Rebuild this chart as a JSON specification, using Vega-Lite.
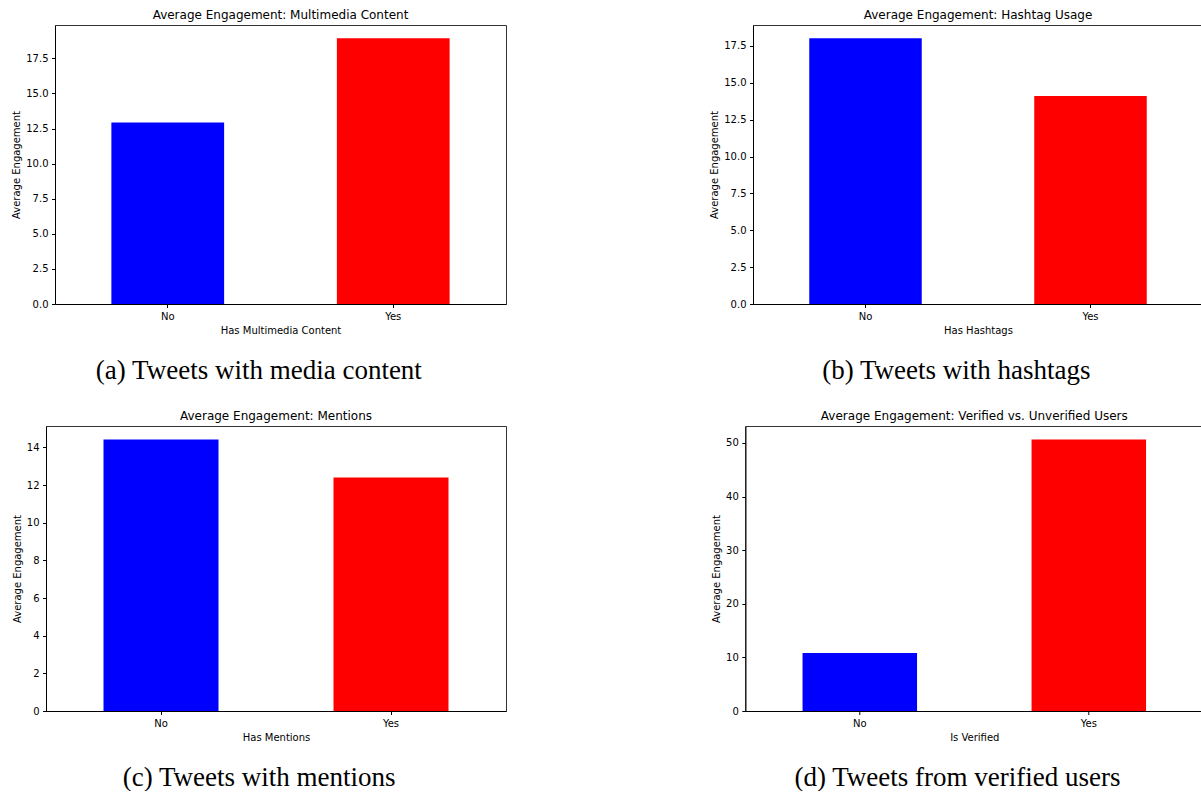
{
  "$schema": "https://vega.github.io/schema/vega-lite/v6.json",
  "padding": {"left": 10, "top": 8, "right": 0, "bottom": 0},
  "background": "white",
  "config": {
    "view": {"stroke": "#333", "strokeWidth": 1},
    "font": "DejaVu Sans",
    "title": {"font": "DejaVu Sans", "fontSize": 12, "fontWeight": "normal", "color": "black", "offset": 3},
    "axis": {
      "labelFont": "DejaVu Sans", "labelFontSize": 10, "labelColor": "black",
      "titleFont": "DejaVu Sans", "titleFontSize": 10, "titleFontWeight": "normal", "titleColor": "black",
      "tickSize": 3.5, "tickColor": "black", "domainColor": "black", "grid": false, "labelPadding": 3.5, "titlePadding": 4
    },
    "bar": {"stroke": null}
  },
  "datasets": {
    "media": [{"label": "No", "value": 12.94}, {"label": "Yes", "value": 18.93}],
    "hashtags": [{"label": "No", "value": 18.02}, {"label": "Yes", "value": 14.11}],
    "mentions": [{"label": "No", "value": 14.42}, {"label": "Yes", "value": 12.40}],
    "verified": [{"label": "No", "value": 10.84}, {"label": "Yes", "value": 50.63}],
    "empty": []
  },
  "spacing": 25,
  "vconcat": [
    {
      "spacing": 0,
      "hconcat": [
        {
          "width": 1, "height": 1,
          "view": {"stroke": null},
          "data": {"name": "empty"},
          "mark": "point",
          "encoding": {}
        },
        {
          "spacing": 202,
          "hconcat": [
            {
              "title": {"text": "(a) Tweets with media content", "orient": "bottom", "anchor": "middle", "font": "Liberation Serif", "fontSize": 27, "offset": 22},
              "vconcat": [{
                "title": "Average Engagement: Multimedia Content",
                "width": 451, "height": 279,
                "data": {"name": "media"},
                "mark": "bar",
                "encoding": {
                  "x": {"field": "label", "type": "nominal", "scale": {"paddingInner": 0.5, "paddingOuter": 0.25}, "axis": {"labelAngle": 0, "title": "Has Multimedia Content"}},
                  "y": {"field": "value", "type": "quantitative", "scale": {"domain": [0, 19.88], "nice": false}, "axis": {"values": [0, 2.5, 5, 7.5, 10, 12.5, 15, 17.5], "format": ".1f", "title": "Average Engagement"}},
                  "color": {"field": "label", "type": "nominal", "scale": {"domain": ["No", "Yes"], "range": ["#0000ff", "#ff0000"]}, "legend": null}
                }
              }]
            },
            {
              "title": {"text": "(b) Tweets with hashtags", "orient": "bottom", "anchor": "middle", "font": "Liberation Serif", "fontSize": 27, "offset": 22},
              "vconcat": [{
                "title": "Average Engagement: Hashtag Usage",
                "width": 450, "height": 279,
                "data": {"name": "hashtags"},
                "mark": "bar",
                "encoding": {
                  "x": {"field": "label", "type": "nominal", "scale": {"paddingInner": 0.5, "paddingOuter": 0.25}, "axis": {"labelAngle": 0, "title": "Has Hashtags"}},
                  "y": {"field": "value", "type": "quantitative", "scale": {"domain": [0, 18.92], "nice": false}, "axis": {"values": [0, 2.5, 5, 7.5, 10, 12.5, 15, 17.5], "format": ".1f", "title": "Average Engagement"}},
                  "color": {"field": "label", "type": "nominal", "scale": {"domain": ["No", "Yes"], "range": ["#0000ff", "#ff0000"]}, "legend": null}
                }
              }]
            }
          ]
        }
      ]
    },
    {
      "spacing": 0,
      "hconcat": [
        {
          "width": 1, "height": 1,
          "view": {"stroke": null},
          "data": {"name": "empty"},
          "mark": "point",
          "encoding": {}
        },
        {
          "spacing": 203.3,
          "hconcat": [
            {
              "title": {"text": "(c) Tweets with mentions", "orient": "bottom", "anchor": "middle", "font": "Liberation Serif", "fontSize": 27, "offset": 22},
              "vconcat": [{
                "title": "Average Engagement: Mentions",
                "width": 460, "height": 285,
                "data": {"name": "mentions"},
                "mark": "bar",
                "encoding": {
                  "x": {"field": "label", "type": "nominal", "scale": {"paddingInner": 0.5, "paddingOuter": 0.25}, "axis": {"labelAngle": 0, "title": "Has Mentions"}},
                  "y": {"field": "value", "type": "quantitative", "scale": {"domain": [0, 15.14], "nice": false}, "axis": {"values": [0, 2, 4, 6, 8, 10, 12, 14], "title": "Average Engagement"}},
                  "color": {"field": "label", "type": "nominal", "scale": {"domain": ["No", "Yes"], "range": ["#0000ff", "#ff0000"]}, "legend": null}
                }
              }]
            },
            {
              "title": {"text": "(d) Tweets from verified users", "orient": "bottom", "anchor": "middle", "font": "Liberation Serif", "fontSize": 27, "offset": 22},
              "vconcat": [{
                "title": "Average Engagement: Verified vs. Unverified Users",
                "width": 458, "height": 285,
                "data": {"name": "verified"},
                "mark": "bar",
                "encoding": {
                  "x": {"field": "label", "type": "nominal", "scale": {"paddingInner": 0.5, "paddingOuter": 0.25}, "axis": {"labelAngle": 0, "title": "Is Verified"}},
                  "y": {"field": "value", "type": "quantitative", "scale": {"domain": [0, 53.16], "nice": false}, "axis": {"values": [0, 10, 20, 30, 40, 50], "title": "Average Engagement"}},
                  "color": {"field": "label", "type": "nominal", "scale": {"domain": ["No", "Yes"], "range": ["#0000ff", "#ff0000"]}, "legend": null}
                }
              }]
            }
          ]
        }
      ]
    }
  ]
}
